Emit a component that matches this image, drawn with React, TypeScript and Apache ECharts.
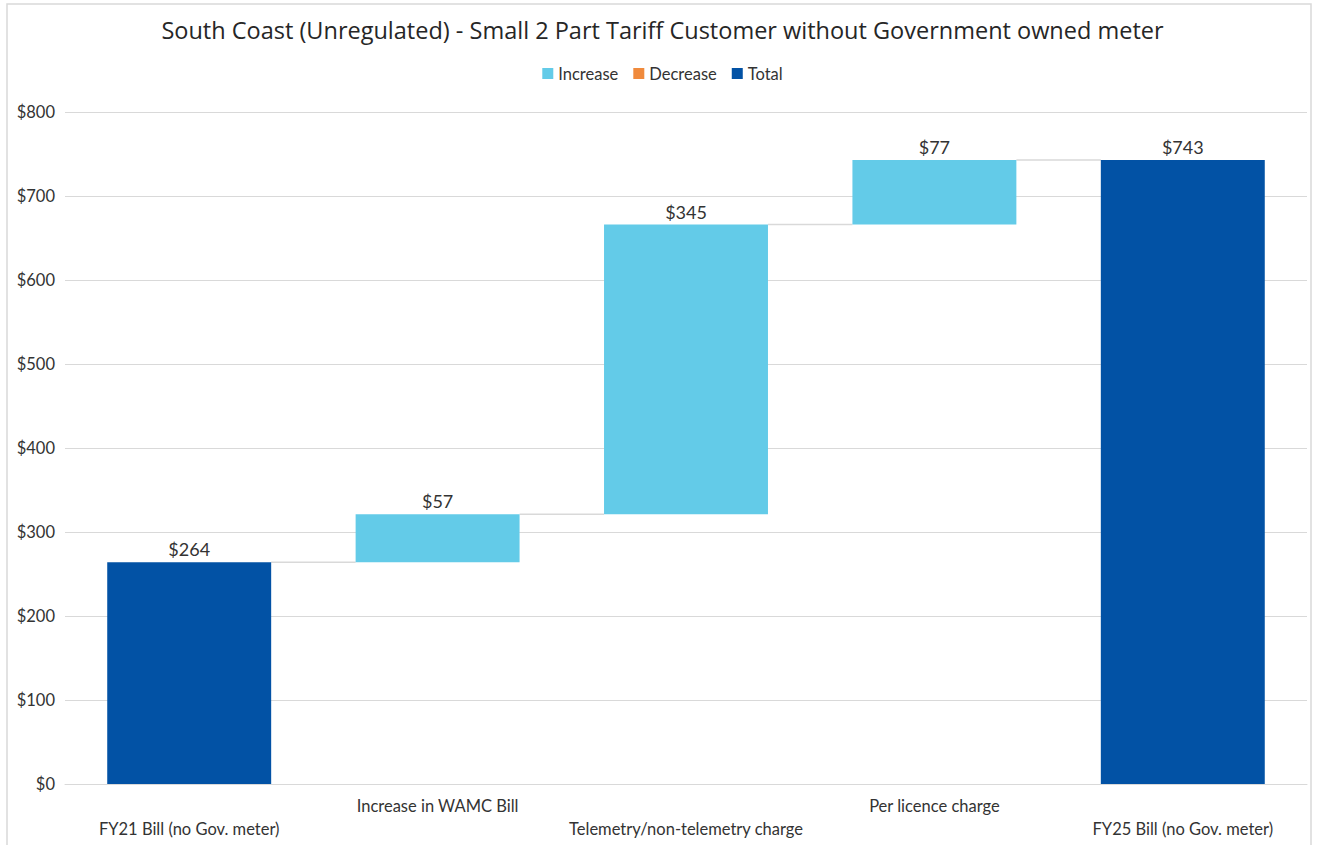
import React, { useEffect, useRef } from "react";
import * as echarts from "echarts";

const title = "South Coast (Unregulated) - Small 2 Part Tariff Customer without Government owned meter";
const categories = [
  "FY21 Bill (no Gov. meter)",
  "Increase in WAMC Bill",
  "Telemetry/non-telemetry charge",
  "Per licence charge",
  "FY25 Bill (no Gov. meter)",
];
const baseValues = [0, 264, 321, 666, 0];
const increaseValues: (number | string)[] = ["-", 57, 345, 77, "-"];
const decreaseValues: (number | string)[] = ["-", "-", "-", "-", "-"];
const totalValues: (number | string)[] = [264, "-", "-", "-", 743];
const connectorLevels = [264, 321, 666, 743];
const yTicks = [0, 100, 200, 300, 400, 500, 600, 700, 800];

const FONT = "Lato, 'Open Sans', sans-serif";
const TXT = "#333333";

export default function App() {
  const ref = useRef<HTMLDivElement>(null);
  useEffect(() => {
    const chart = echarts.init(ref.current!, null, { renderer: "svg" });
    const barPct = 0.66;
    chart.setOption({
      animation: false,
      backgroundColor: "#ffffff",
      textStyle: { fontFamily: FONT },
      title: {
        text: title,
        left: "center",
        top: 13,
        textStyle: { fontFamily: "'Open Sans', sans-serif", fontSize: 23.5, fontWeight: "normal", color: "#262626" },
      },
      legend: {
        top: 60,
        left: "center",
        itemWidth: 11,
        itemHeight: 11,
        itemGap: 15,
        icon: "rect",
        data: ["Increase", "Decrease", "Total"],
        textStyle: { fontFamily: FONT, fontSize: 16.5, color: TXT },
      },
      graphic: [
        {
          type: "rect",
          shape: { x: 7, y: 4, width: 1304, height: 860 },
          style: { fill: "none", stroke: "#d9d9d9", lineWidth: 1.5 },
          silent: true,
        },
      ],
      grid: { left: 65, right: 18, top: 112, bottom: 61, containLabel: false },
      xAxis: {
        type: "category",
        data: categories,
        axisLine: { lineStyle: { color: "#d9d9d9" } },
        axisTick: { show: false },
        axisLabel: {
          interval: 0,
          margin: 10,
          lineHeight: 23,
          fontFamily: FONT,
          fontSize: 16.5,
          color: TXT,
          formatter: (v: string, i: number) => (i % 2 === 0 ? "\n" + v : v),
        },
      },
      yAxis: {
        type: "value",
        min: 0,
        max: 800,
        interval: 100,
        axisLine: { show: false },
        axisTick: { show: false },
        splitLine: { lineStyle: { color: "#d9d9d9" } },
        axisLabel: {
          margin: 10,
          fontFamily: FONT,
          fontSize: 16.5,
          color: TXT,
          formatter: (v: number) => (yTicks.includes(v) ? "$" + v : ""),
        },
      },
      series: [
        {
          name: "base",
          type: "bar",
          stack: "w",
          barWidth: barPct * 100 + "%",
          itemStyle: { color: "transparent" },
          data: baseValues,
          silent: true,
        },
        {
          name: "Increase",
          type: "bar",
          stack: "w",
          itemStyle: { color: "#63CBE8" },
          data: increaseValues,
          label: { show: true, position: "top", distance: 4, fontFamily: FONT, fontSize: 18, color: TXT, formatter: (p: any) => "$" + p.value },
        },
        {
          name: "Decrease",
          type: "bar",
          stack: "w",
          itemStyle: { color: "#F08A3C" },
          data: decreaseValues,
        },
        {
          name: "Total",
          type: "bar",
          stack: "w",
          itemStyle: { color: "#0252A5" },
          data: totalValues,
          label: { show: true, position: "top", distance: 4, fontFamily: FONT, fontSize: 18, color: TXT, formatter: (p: any) => "$" + p.value },
        },
        {
          name: "connectors",
          type: "custom",
          silent: true,
          z: 1,
          data: connectorLevels.map((v, i) => [i, v]),
          renderItem: (params: any, api: any) => {
            const i = api.value(0);
            const v = api.value(1);
            const p1 = api.coord([i, v]);
            const p2 = api.coord([i + 1, v]);
            const w = api.size([1, 0])[0] * barPct;
            return {
              type: "line",
              shape: { x1: p1[0] + w / 2, y1: p1[1], x2: p2[0] - w / 2, y2: p2[1] },
              style: { stroke: "#d9d9d9", lineWidth: 1.5 },
            };
          },
        },
      ],
    });
    return () => chart.dispose();
  }, []);
  return (
    <div
      ref={ref}
      style={{ position: "fixed", left: 0, top: 0, width: 1325, height: 845 }}
    />
  );
}
